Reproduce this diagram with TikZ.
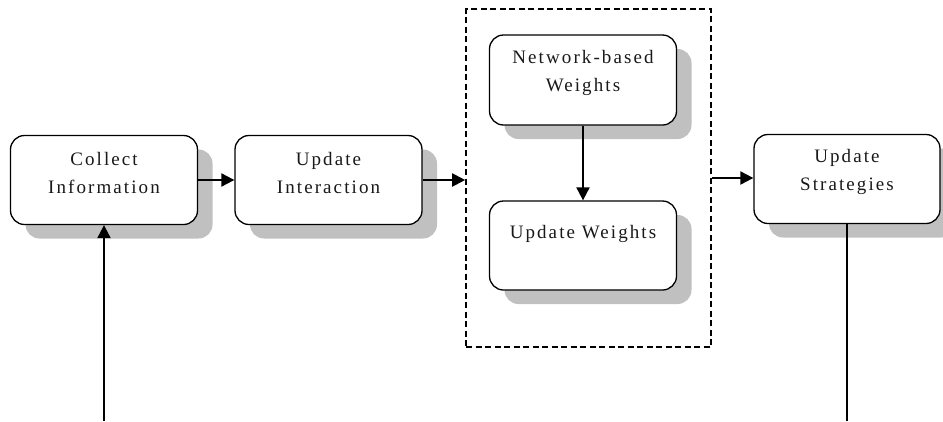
\documentclass[tikz,border=0pt]{standalone}
\usepackage{fontspec}
\setmainfont[LetterSpace=11]{Liberation Serif}
\usetikzlibrary{arrows.meta,shadows}
\definecolor{shadowgray}{HTML}{C0C0C0}
\begin{document}
\begin{tikzpicture}[x=1pt,y=-1pt,
  box/.style={draw, line width=1.3pt, rounded corners=14pt, fill=white,
    minimum width=187pt, minimum height=89pt, inner sep=0pt,
    drop shadow={shadow xshift=15pt, shadow yshift=-14pt, fill=shadowgray, opacity=1}},
  lbl/.style={align=center, font=\fontsize{19}{28}\selectfont, text=black!90, inner sep=0pt},
  grpbox/.style={draw, line width=1.6pt, dash pattern=on 6pt off 3.5pt,
    minimum width=245pt, minimum height=338pt, inner sep=0pt},
  link/.style={line width=2pt, -{Triangle[length=13pt,width=13pt]}},
  plain/.style={line width=2pt}]
  \useasboundingbox (0,0) rectangle (943,421);

  % group of the two weight steps
  \node[grpbox] (grp) at (588.5,178) {};

  % process steps
  \node[box] (ci) at (104,180) {};
  \node[box] (ui) at (328.5,180) {};
  \node[box, minimum height=90pt] (nw) at (583,80) {};
  \node[box] (uw) at (583,245.5) {};
  \node[box, minimum width=186pt] (us) at (847,179) {};

  % step labels
  \node[lbl] (ciT) at ([yshift=7pt]ci.center) {Collect\\Information};
  \node[lbl] (uiT) at ([yshift=7pt]ui.center) {Update\\Interaction};
  \node[lbl] (nwT) at ([yshift=7pt]nw.center) {Network-based\\Weights};
  \node[lbl] (uwT) at ([yshift=12pt]uw.center) {Update Weights};
  \node[lbl] (usT) at ([yshift=7pt]us.center) {Update\\Strategies};

  % loose ends at the bottom edge
  \coordinate (bl) at (104,421);
  \coordinate (br) at (847,421);

  % connectors
  \draw[link] (ci.east) -- (ui.west);
  \draw[link] (ui.east) -- (ui.east -| grp.west);
  \draw[link] (grp.east) -- (grp.east -| us.west);
  \draw[link] (nw.south) -- (uw.north);
  \draw[link] (bl) -- (ci.south);
  \draw[plain] (us.south) -- (br);
\end{tikzpicture}
\end{document}
